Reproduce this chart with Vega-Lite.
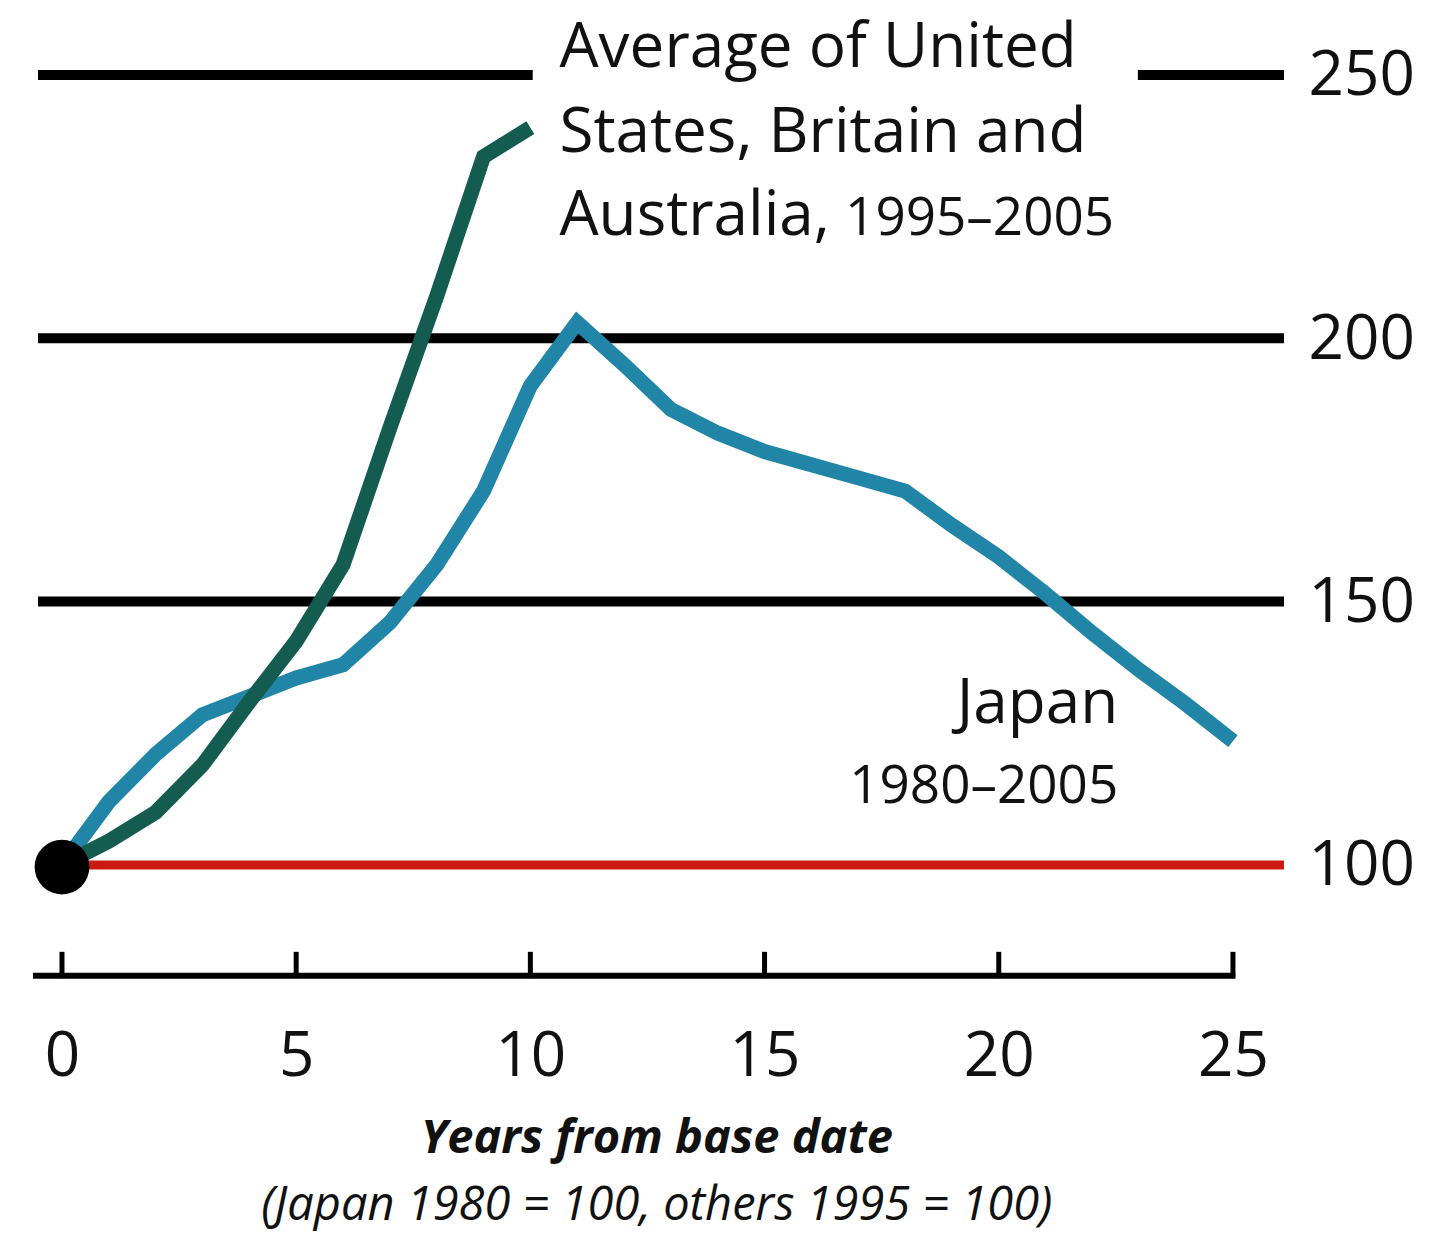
{
  "$schema": "https://vega.github.io/schema/vega-lite/v6.json",
  "width": 1246,
  "height": 975,
  "autosize": "none",
  "padding": {"left": 38, "top": 0, "right": 169, "bottom": 262},
  "background": "white",
  "config": {"view": {"stroke": null}, "font": "Open Sans"},
  "datasets": {
    "japan": [
      {"t": 0, "v": 100}, {"t": 1, "v": 112}, {"t": 2, "v": 121}, {"t": 3, "v": 128.5},
      {"t": 4, "v": 132}, {"t": 5, "v": 135.5}, {"t": 6, "v": 138}, {"t": 7, "v": 146},
      {"t": 8, "v": 157}, {"t": 9, "v": 171}, {"t": 10, "v": 191}, {"t": 11, "v": 203},
      {"t": 12, "v": 195}, {"t": 13, "v": 186.5}, {"t": 14, "v": 182}, {"t": 15, "v": 178.5},
      {"t": 16, "v": 176}, {"t": 17, "v": 173.5}, {"t": 18, "v": 171}, {"t": 19, "v": 164.5},
      {"t": 20, "v": 158.5}, {"t": 21, "v": 151.5}, {"t": 22, "v": 144}, {"t": 23, "v": 137},
      {"t": 24, "v": 130.5}, {"t": 25, "v": 123.5}
    ],
    "avg": [
      {"t": 0, "v": 100}, {"t": 1, "v": 104.5}, {"t": 2, "v": 110}, {"t": 3, "v": 119},
      {"t": 4, "v": 131}, {"t": 5, "v": 142.5}, {"t": 6, "v": 157}, {"t": 7, "v": 183},
      {"t": 8, "v": 208}, {"t": 9, "v": 234.5}, {"t": 10, "v": 240}
    ],
    "grid": [
      {"v": 150, "t": -0.512, "t2": 26.09},
      {"v": 200, "t": -0.512, "t2": 26.09},
      {"v": 250, "t": -0.512, "t2": 10.05},
      {"v": 250, "t": 22.97, "t2": 26.09}
    ]
  },
  "encoding": {
    "x": {"field": "t", "type": "quantitative",
          "scale": {"domain": [-0.512, 26.09], "zero": false, "nice": false},
          "axis": {"orient": "bottom", "title": null, "values": [0, 5, 10, 15, 20, 25],
                   "domain": false, "ticks": false, "tickSize": 0, "grid": false,
                   "labelFontSize": 62, "labelColor": "#111111", "labelBaseline": "alphabetic",
                   "labelPadding": 100, "labelFont": "Open Sans", "labelFlush": false, "labelOverlap": false}},
    "y": {"field": "v", "type": "quantitative",
          "scale": {"domain": [79.1, 264.24], "zero": false, "nice": false},
          "axis": {"orient": "right", "title": null, "values": [100, 150, 200, 250],
                   "domain": false, "ticks": false, "tickSize": 0, "grid": false,
                   "labelFontSize": 62, "labelColor": "#111111", "labelBaseline": "alphabetic",
                   "labelOffset": 20, "labelPadding": 24, "labelAlign": "left", "labelFont": "Open Sans", "labelFlush": false, "labelOverlap": false}}
  },
  "layer": [
    {
      "data": {"name": "grid"},
      "mark": {"type": "rule", "color": "#000000", "strokeWidth": 10},
      "encoding": {"x2": {"field": "t2"}}
    },
    {
      "data": {"values": [{"v": 100, "t": 0, "t2": 26.09}]},
      "mark": {"type": "rule", "color": "#cc1a10", "strokeWidth": 9},
      "encoding": {"x2": {"field": "t2"}}
    },
    {
      "data": {"values": [{"v": 78.95, "t": -0.62, "t2": 25.05}]},
      "mark": {"type": "rule", "color": "#000000", "strokeWidth": 6},
      "encoding": {"x2": {"field": "t2"}}
    },
    {
      "data": {"values": [
        {"t": 0, "v": 78.5, "v2": 83.5}, {"t": 5, "v": 78.5, "v2": 83.5}, {"t": 10, "v": 78.5, "v2": 83.5},
        {"t": 15, "v": 78.5, "v2": 83.5}, {"t": 20, "v": 78.5, "v2": 83.5}, {"t": 25, "v": 78.5, "v2": 83.5}
      ]},
      "mark": {"type": "rule", "color": "#000000", "strokeWidth": 5},
      "encoding": {"y2": {"field": "v2"}}
    },
    {
      "data": {"name": "japan"},
      "mark": {"type": "line", "color": "#2085a7", "strokeWidth": 15, "strokeJoin": "miter", "strokeCap": "butt"},
      "encoding": {}
    },
    {
      "data": {"name": "avg"},
      "mark": {"type": "line", "color": "#145c50", "strokeWidth": 15, "strokeJoin": "miter", "strokeCap": "butt"},
      "encoding": {}
    },
    {
      "data": {"values": [{"t": 0, "v": 99.6}]},
      "mark": {"type": "point", "filled": true, "color": "#000000", "opacity": 1, "size": 3000},
      "encoding": {}
    },
    {
      "data": {"values": [
        {"t": 10.62, "v": 251.5, "label": "Average of United"},
        {"t": 10.62, "v": 235.4, "label": "States, Britain and"},
        {"t": 10.62, "v": 219.6, "label": "Australia,"}
      ]},
      "mark": {"type": "text", "align": "left", "baseline": "alphabetic", "fontSize": 62, "color": "#111111", "font": "Open Sans"},
      "encoding": {"text": {"field": "label"}}
    },
    {
      "data": {"values": [{"t": 16.72, "v": 219.6, "label": "1995–2005"}]},
      "mark": {"type": "text", "align": "left", "baseline": "alphabetic", "fontSize": 53, "color": "#111111", "font": "Open Sans"},
      "encoding": {"text": {"field": "label"}}
    },
    {
      "data": {"values": [{"t": 22.55, "v": 127.0, "label": "Japan"}]},
      "mark": {"type": "text", "align": "right", "baseline": "alphabetic", "fontSize": 62, "color": "#111111", "font": "Open Sans"},
      "encoding": {"text": {"field": "label"}}
    },
    {
      "data": {"values": [{"t": 22.55, "v": 111.8, "label": "1980–2005"}]},
      "mark": {"type": "text", "align": "right", "baseline": "alphabetic", "fontSize": 53, "color": "#111111", "font": "Open Sans"},
      "encoding": {"text": {"field": "label"}}
    },
    {
      "data": {"values": [{"t": 12.7, "v": 45.3, "label": "Years from base date"}]},
      "mark": {"type": "text", "align": "center", "baseline": "alphabetic", "fontSize": 47, "fontWeight": "bold", "fontStyle": "italic", "color": "#111111", "font": "Open Sans"},
      "encoding": {"text": {"field": "label"}}
    },
    {
      "data": {"values": [{"t": 12.7, "v": 32.5, "label": "(Japan 1980 = 100, others 1995 = 100)"}]},
      "mark": {"type": "text", "align": "center", "baseline": "alphabetic", "fontSize": 47, "fontStyle": "italic", "color": "#111111", "font": "Open Sans"},
      "encoding": {"text": {"field": "label"}}
    }
  ]
}
